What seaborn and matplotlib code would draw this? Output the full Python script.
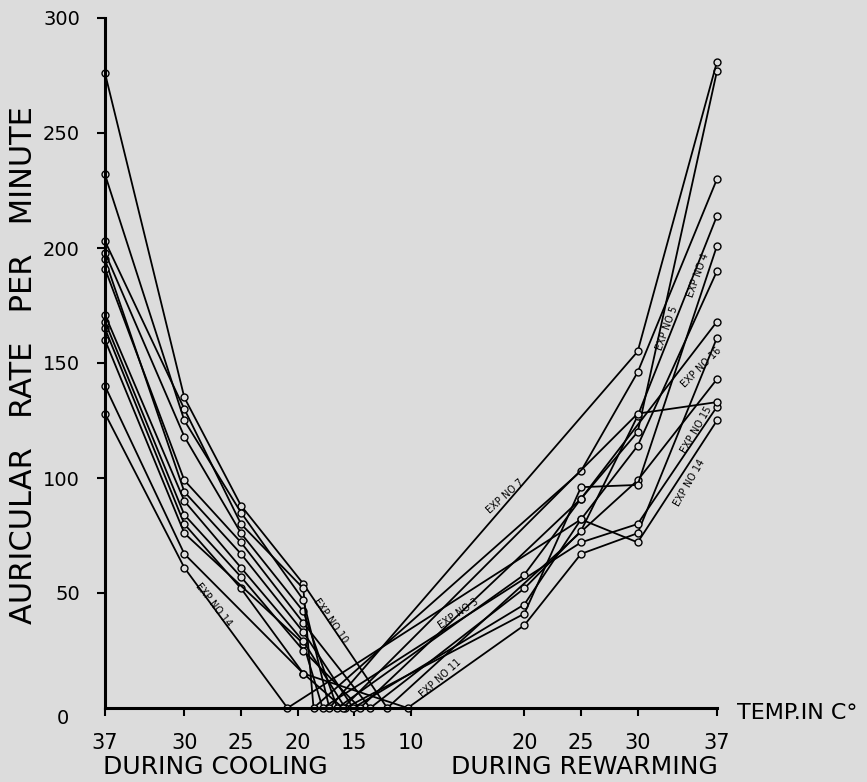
import numpy as np
import pandas as pd
import matplotlib
matplotlib.use("Agg")
from matplotlib import pyplot as plt
import seaborn as sns

nan = np.nan

# temperatures at which the rate was read (deg C)
cool_temps = [37, 30, 25, 19.5]
rew_temps = [20, 25, 30, 37]
axis_ticks = [37, 30, 25, 20, 15, 10, 20, 25, 30, 37]

# one entry per experiment: rates during cooling, temp where the beat stopped, rates during rewarming
exp_names = ["EXP NO 10", "EXP NO 7", "EXP NO 5", "EXP NO 3", "EXP NO 4", "EXP NO 1",
             "EXP NO 2", "EXP NO 16", "EXP NO 11", "EXP NO 15", "EXP NO 14", "EXP NO 6"]
cool_rates = [
    [276, 135, 88, 54],
    [232, 125, 85, 47],
    [203, 130, 80, 52],
    [198, 118, 76, 42],
    [191, 99, 72, 37],
    [195, 94, 67, 33],
    [171, 90, 61, 29],
    [168, 84, 57, 25],
    [165, 80, 52, 15],
    [160, 76, nan, 28],
    [128, 61, nan, nan],
    [140, 67, nan, 15],
]
stop_temps = [12.1, 17.2, 18.6, 16.5, 13.6, 15.1, 15.8, 14.5, 10.3, 17.8, 20.9, 16.0]
rew_rates = [
    [nan, nan, 99, 143],
    [nan, nan, 155, 281],
    [nan, 103, 146, 230],
    [58, 91, 120, 277],
    [52, 77, 127, 214],
    [45, 82, 114, 190],
    [41, 96, 97, 201],
    [nan, 91, nan, 168],
    [36, 67, 76, 161],
    [nan, 72, 80, 131],
    [nan, 82, 72, 125],
    [nan, nan, 128, 133],
]

# the temperature axis runs 37 -> 10 while cooling, then 10 -> 37 while rewarming
def cool_pos(t):
    return 37 - t

def rew_pos(t):
    return 27 + (t - 10)

rows = []
for name, cr, t0, rr in zip(exp_names, cool_rates, stop_temps, rew_rates):
    for t, r in zip(cool_temps, cr):
        if not np.isnan(r):
            rows.append((name, cool_pos(t), r))
    rows.append((name, cool_pos(t0), 0))
    for t, r in zip(rew_temps, rr):
        if not np.isnan(r):
            rows.append((name, rew_pos(t), r))
df = pd.DataFrame(rows, columns=["exp", "pos", "rate"])

bg = "#dcdcdc"
sns.set_style("ticks")
plt.rcParams["font.family"] = ["DejaVu Sans"]
plt.rcParams["text.color"] = "black"
plt.rcParams["xtick.color"] = "black"
plt.rcParams["ytick.color"] = "black"

fig = plt.figure(figsize=(8.67, 7.82), dpi=100, facecolor=bg)
ax = fig.add_axes([105 / 867, 1 - 708 / 782, 612 / 867, 690 / 782])
ax.set_facecolor(bg)

sns.lineplot(data=df, x="pos", y="rate", units="exp", estimator=None, sort=False,
             color="black", lw=1.3, marker="o", ms=5, mfc=bg, mec="black", mew=1,
             clip_on=False, legend=False, ax=ax)

ax.set_xlim(0, 54)
ax.set_ylim(0, 300)
tick_pos = [cool_pos(t) for t in axis_ticks[:6]] + [rew_pos(t) for t in axis_ticks[6:]]
ax.set_xticks(tick_pos)
ax.set_xticklabels([str(t) for t in axis_ticks], fontsize=15)
ax.set_yticks([50, 100, 150, 200, 250, 300])
ax.set_yticklabels(["50", "100", "150", "200", "250", "300"], fontsize=14)
ax.tick_params(axis="x", direction="out", length=6, width=1.5, pad=12)
ax.tick_params(axis="y", direction="out", length=6, width=1.5, pad=12)
ax.set_xlabel("")
ax.set_ylabel("")
sns.despine(ax=ax)
for s in ["left", "bottom"]:
    ax.spines[s].set_linewidth(2.2)
    ax.spines[s].set_color("black")

# labels written along the curves
exp_labels = [
    ("EXP NO 14", 9.6, 45, -52),
    ("EXP NO 10", 19.9, 38, -55),
    ("EXP NO 3", 31.2, 41, 34),
    ("EXP NO 11", 29.6, 13, 42),
    ("EXP NO 7", 35.3, 92, 42),
    ("EXP NO 5", 49.6, 165, 70),
    ("EXP NO 4", 52.3, 188, 70),
    ("EXP NO 16", 52.6, 148, 45),
    ("EXP NO 15", 52.2, 121, 60),
    ("EXP NO 14", 51.6, 98, 60),
]
for txt, x, y, rot in exp_labels:
    ax.text(x, y, txt, fontsize=7, rotation=rot, ha="center", va="center",
            rotation_mode="anchor", clip_on=False)

fig.text(63 / 867, 1 - 718 / 782, "0", fontsize=14, ha="center", va="center")
fig.text(24 / 867, 1 - 365 / 782, "AURICULAR   RATE   PER   MINUTE", fontsize=22,
         rotation=90, ha="center", va="center")
fig.text(737 / 867, 1 - 713 / 782, "TEMP.IN C°", fontsize=16, ha="left", va="center")
fig.text(103 / 867, 1 - 767 / 782, "DURING COOLING", fontsize=18, ha="left", va="center")
fig.text(718 / 867, 1 - 767 / 782, "DURING REWARMING", fontsize=18, ha="right", va="center")

fig.savefig("out.png", dpi=100, facecolor=bg)
